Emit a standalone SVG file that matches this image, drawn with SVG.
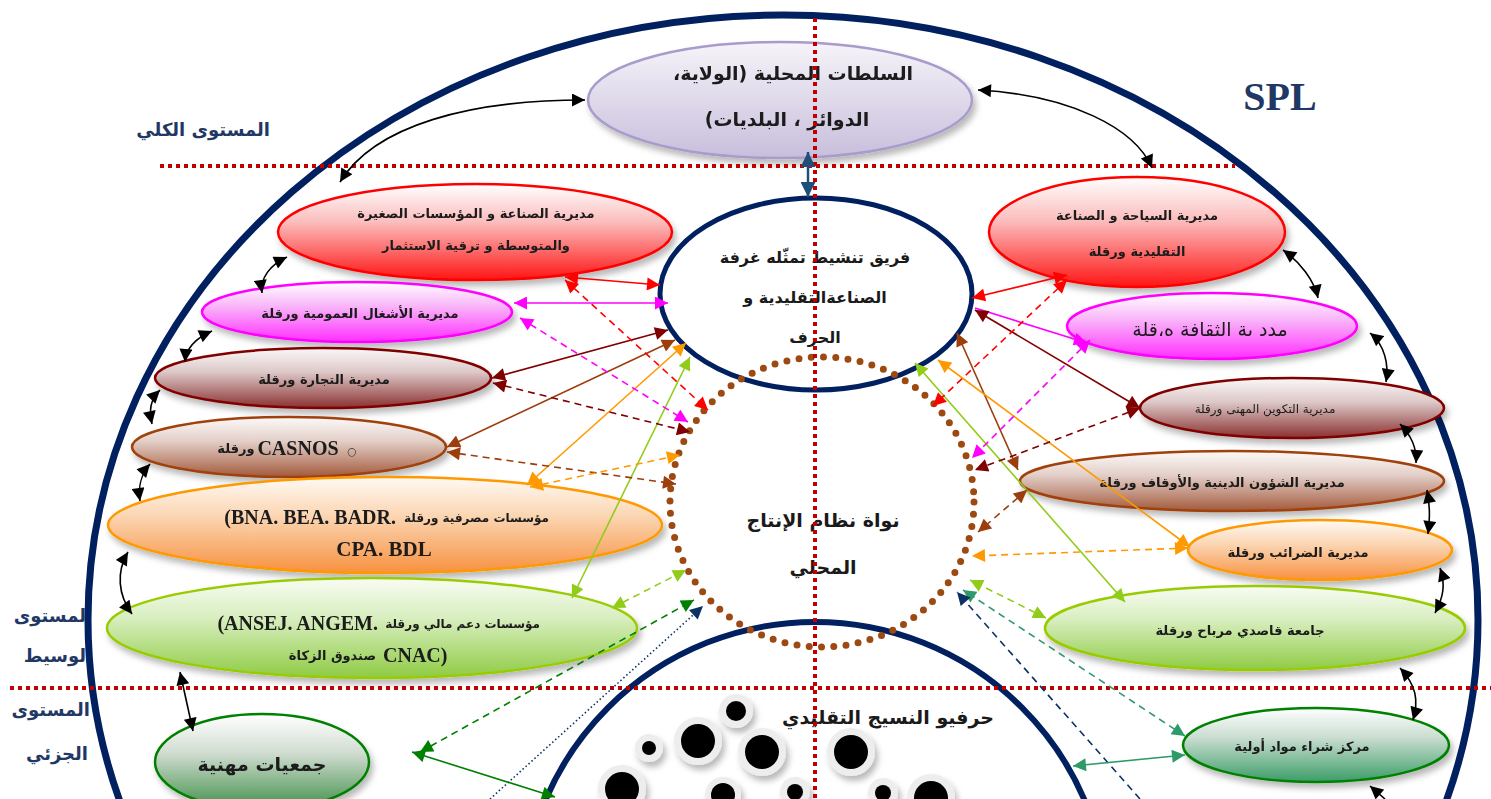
<svg xmlns="http://www.w3.org/2000/svg" width="1491" height="799" viewBox="0 0 1491 799">
<style>
.ar{font-family:"DejaVu Sans","Noto Sans",sans-serif;font-weight:bold;fill:#1a1a1a;text-anchor:middle}
.arr{font-family:"DejaVu Sans","Noto Sans",sans-serif;font-weight:normal;fill:#1a1a1a;text-anchor:middle}
.are{font-family:"DejaVu Sans","Noto Sans",sans-serif;font-weight:bold;fill:#1a1a1a;text-anchor:start}
.lat{font-family:"Liberation Serif","Times New Roman",serif;font-weight:bold;fill:#1a1a1a}
.lvl{font-family:"DejaVu Sans","Noto Sans",sans-serif;font-weight:bold;fill:#1f3864;font-size:18px;text-anchor:end}
.red-dot{fill:none;stroke:#c00000;stroke-width:4;stroke-dasharray:4 4}
.c{fill:none;stroke-width:1.6}
.d{stroke-dasharray:7 5}
.k{stroke:#000}
.r{stroke:#ff0000}
.m{stroke:#ff00ff}
.mr{stroke:#800000}
.b{stroke:#9c3d0c}
.o{stroke:#ff9900}
.y{stroke:#92cc1a}
.g{stroke:#008000}
.t{stroke:#2e9a6a}
.n{stroke:#0a3264}
.node{filter:url(#sh)}
</style>
<defs>
<filter id="sh" x="-10%" y="-15%" width="125%" height="145%"><feDropShadow dx="3" dy="5" stdDeviation="3" flood-color="#000" flood-opacity="0.28"/></filter>
<linearGradient id="gLav" x1="0" y1="0" x2="0" y2="1"><stop offset="0" stop-color="#f6f4f9"/><stop offset="1" stop-color="#c8bedc"/></linearGradient>
<linearGradient id="gRed" x1="0" y1="0" x2="0" y2="1"><stop offset="0" stop-color="#ffffff"/><stop offset="0.4" stop-color="#fbbcbc"/><stop offset="1" stop-color="#ff1414"/></linearGradient>
<linearGradient id="gMag" x1="0" y1="0" x2="0" y2="1"><stop offset="0" stop-color="#ffffff"/><stop offset="0.4" stop-color="#f9b6f9"/><stop offset="1" stop-color="#ff2eff"/></linearGradient>
<linearGradient id="gMar" x1="0" y1="0" x2="0" y2="1"><stop offset="0" stop-color="#fbf8f8"/><stop offset="0.4" stop-color="#ddc8c8"/><stop offset="1" stop-color="#8a3030"/></linearGradient>
<linearGradient id="gBrn" x1="0" y1="0" x2="0" y2="1"><stop offset="0" stop-color="#fcfaf9"/><stop offset="0.4" stop-color="#e3cfc8"/><stop offset="1" stop-color="#a35a3c"/></linearGradient>
<linearGradient id="gOra" x1="0" y1="0" x2="0" y2="1"><stop offset="0" stop-color="#fffaf4"/><stop offset="0.4" stop-color="#fbd6b3"/><stop offset="1" stop-color="#f79140"/></linearGradient>
<linearGradient id="gYg" x1="0" y1="0" x2="0" y2="1"><stop offset="0" stop-color="#f8fcf3"/><stop offset="0.4" stop-color="#d8eebf"/><stop offset="1" stop-color="#8fcb44"/></linearGradient>
<linearGradient id="gGrn" x1="0" y1="0" x2="0" y2="1"><stop offset="0" stop-color="#ffffff"/><stop offset="0.4" stop-color="#d2ddd2"/><stop offset="1" stop-color="#3f8f48"/></linearGradient>
<linearGradient id="gTeal" x1="0" y1="0" x2="0" y2="1"><stop offset="0" stop-color="#ffffff"/><stop offset="0.4" stop-color="#c9ddd0"/><stop offset="1" stop-color="#3c9d68"/></linearGradient>
<marker id="aK" viewBox="0 0 10 10" refX="10" refY="5" markerWidth="14" markerHeight="13" markerUnits="userSpaceOnUse" orient="auto-start-reverse"><path d="M0 0L10 5L0 10z" fill="#000"/></marker>
<marker id="aR" viewBox="0 0 10 10" refX="10" refY="5" markerWidth="14" markerHeight="13" markerUnits="userSpaceOnUse" orient="auto-start-reverse"><path d="M0 0L10 5L0 10z" fill="#ff0000"/></marker>
<marker id="aM" viewBox="0 0 10 10" refX="10" refY="5" markerWidth="14" markerHeight="13" markerUnits="userSpaceOnUse" orient="auto-start-reverse"><path d="M0 0L10 5L0 10z" fill="#ff00ff"/></marker>
<marker id="aMr" viewBox="0 0 10 10" refX="10" refY="5" markerWidth="14" markerHeight="13" markerUnits="userSpaceOnUse" orient="auto-start-reverse"><path d="M0 0L10 5L0 10z" fill="#800000"/></marker>
<marker id="aB" viewBox="0 0 10 10" refX="10" refY="5" markerWidth="14" markerHeight="13" markerUnits="userSpaceOnUse" orient="auto-start-reverse"><path d="M0 0L10 5L0 10z" fill="#9c3d0c"/></marker>
<marker id="aO" viewBox="0 0 10 10" refX="10" refY="5" markerWidth="14" markerHeight="13" markerUnits="userSpaceOnUse" orient="auto-start-reverse"><path d="M0 0L10 5L0 10z" fill="#ff9900"/></marker>
<marker id="aY" viewBox="0 0 10 10" refX="10" refY="5" markerWidth="14" markerHeight="13" markerUnits="userSpaceOnUse" orient="auto-start-reverse"><path d="M0 0L10 5L0 10z" fill="#92cc1a"/></marker>
<marker id="aG" viewBox="0 0 10 10" refX="10" refY="5" markerWidth="14" markerHeight="13" markerUnits="userSpaceOnUse" orient="auto-start-reverse"><path d="M0 0L10 5L0 10z" fill="#008000"/></marker>
<marker id="aT" viewBox="0 0 10 10" refX="10" refY="5" markerWidth="14" markerHeight="13" markerUnits="userSpaceOnUse" orient="auto-start-reverse"><path d="M0 0L10 5L0 10z" fill="#2e9a6a"/></marker>
<marker id="aN" viewBox="0 0 10 10" refX="10" refY="5" markerWidth="14" markerHeight="13" markerUnits="userSpaceOnUse" orient="auto-start-reverse"><path d="M0 0L10 5L0 10z" fill="#0a3264"/></marker>
<marker id="aNB" viewBox="0 0 10 10" refX="10" refY="5" markerWidth="16" markerHeight="15" markerUnits="userSpaceOnUse" orient="auto-start-reverse"><path d="M0 0L10 5L0 10z" fill="#1f4e79"/></marker>
</defs>
<rect width="1491" height="799" fill="#ffffff"/>

<!-- outer SPL boundary -->
<ellipse id="outer" cx="783" cy="620" rx="695" ry="605" fill="none" stroke="#002060" stroke-width="7"/>

<!-- labels -->
<text x="1280" y="110" text-anchor="middle" font-family="Liberation Serif, serif" font-weight="bold" font-size="40" fill="#1f3864">SPL</text>
<text class="lvl" x="270" y="136" font-size="19">المستوى الكلي</text>
<text class="lvl" x="86" y="622">لمستوى</text>
<text class="lvl" x="86" y="662">لوسيط</text>
<text class="lvl" x="90" y="716">المستوى</text>
<text class="lvl" x="88" y="760">الجزئي</text>

<!-- bottom circle: artisans -->
<g id="artisans">
<circle cx="815" cy="915" r="293" fill="none" stroke="#002060" stroke-width="6"/>
<g filter="url(#sh)" fill="#ededed">
<circle cx="736" cy="711" r="17"/><circle cx="698" cy="741" r="24"/><circle cx="649" cy="748" r="14"/>
<circle cx="762" cy="752" r="24"/><circle cx="851" cy="752" r="24"/><circle cx="622" cy="789" r="24"/>
<circle cx="723" cy="795" r="18"/><circle cx="795" cy="792" r="15"/><circle cx="883" cy="793" r="15"/><circle cx="931" cy="798" r="24"/>
</g>
<g fill="#000">
<circle cx="736" cy="711" r="10"/><circle cx="698" cy="741" r="17"/><circle cx="649" cy="748" r="7"/>
<circle cx="762" cy="752" r="17"/><circle cx="851" cy="752" r="17"/><circle cx="622" cy="789" r="17"/>
<circle cx="723" cy="795" r="12"/><circle cx="795" cy="792" r="8"/><circle cx="883" cy="793" r="8"/><circle cx="931" cy="798" r="17"/>
</g>
<text class="ar" x="888" y="724" font-size="19">حرفيو النسيج التقليدي</text>
</g>

<g id="team">
<ellipse cx="816" cy="294" rx="156" ry="96" fill="none" stroke="#002060" stroke-width="5"/>
<text class="ar" x="815" y="263" font-size="16">فريق تنشيط تمثّله غرفة</text>
<text class="ar" x="815" y="303" font-size="16">الصناعةالتقليدية و</text>
<text class="ar" x="815" y="343" font-size="16">الحرف</text>
</g>

<!-- core -->
<g id="core">
<ellipse cx="822" cy="502" rx="152" ry="145" fill="none" stroke="#9c4a12" stroke-width="7" stroke-linecap="round" stroke-dasharray="0 12.3"/>
<text class="ar" x="823" y="527" font-size="19">نواة نظام الإنتاج</text>
<text class="ar" x="823" y="574" font-size="19">المحلي</text>
</g>

<g id="authorities" class="node">
<ellipse cx="780" cy="100" rx="192" ry="58" fill="url(#gLav)" stroke="#a99bcb" stroke-width="2.5"/>
<text class="ar" x="793" y="80" font-size="19" direction="rtl">السلطات المحلية (الولاية،</text>
<text class="ar" x="787" y="126" font-size="19" direction="rtl">الدوائر ، البلديات)</text>
</g>

<!-- left nodes -->
<g id="industry" class="node">
<ellipse cx="475" cy="232" rx="197" ry="48" fill="url(#gRed)" stroke="#ff0000" stroke-width="2.5"/>
<text class="ar" x="476" y="218" font-size="13">مديرية الصناعة و المؤسسات الصغيرة</text>
<text class="ar" x="476" y="250" font-size="13">والمتوسطة و ترقية الاستثمار</text>
</g>
<g id="publicworks" class="node">
<ellipse cx="357" cy="312" rx="155" ry="30" fill="url(#gMag)" stroke="#ff00ff" stroke-width="2.5"/>
<text class="ar" x="360" y="318" font-size="13">مديرية الأشغال العمومية ورقلة</text>
</g>
<g id="commerce" class="node">
<ellipse cx="323" cy="378" rx="168" ry="30" fill="url(#gMar)" stroke="#800000" stroke-width="2.5"/>
<text class="ar" x="324" y="384" font-size="13">مديرية التجارة ورقلة</text>
</g>
<g id="casnos" class="node">
<ellipse cx="289" cy="447" rx="157" ry="30" fill="url(#gBrn)" stroke="#a0400a" stroke-width="2.5"/>
<text class="ar" x="236" y="453" font-size="13">ورقلة</text>
<text class="lat" x="298" y="455" font-size="20" text-anchor="middle">CASNOS</text>
<text x="352" y="455" font-size="11" text-anchor="middle" font-family="DejaVu Sans, sans-serif" fill="#333">○</text>
</g>
<g id="banks" class="node">
<ellipse cx="385" cy="525" rx="277" ry="48" fill="url(#gOra)" stroke="#ff9900" stroke-width="2.5"/>
<text class="are" x="549" y="522" font-size="12" direction="rtl">مؤسسات مصرفية ورقلة</text>
<text class="lat" x="396" y="524" font-size="20" text-anchor="end">(BNA. BEA. BADR.</text>
<text class="lat" x="384" y="556" font-size="21" text-anchor="middle">CPA. BDL</text>
</g>
<g id="finance" class="node">
<ellipse cx="372" cy="628" rx="265" ry="50" fill="url(#gYg)" stroke="#99cc00" stroke-width="2.5"/>
<text class="are" x="540" y="628" font-size="12" direction="rtl">مؤسسات دعم مالي ورقلة</text>
<text class="lat" x="378" y="630" font-size="20" text-anchor="end">(ANSEJ. ANGEM.</text>
<text class="are" x="376" y="660" font-size="13" direction="rtl">صندوق الزكاة</text>
<text class="lat" x="383" y="662" font-size="20" text-anchor="start">CNAC)</text>
</g>
<g id="associations" class="node">
<ellipse cx="262" cy="762" rx="107" ry="48" fill="url(#gGrn)" stroke="#008000" stroke-width="2.5"/>
<text class="ar" x="262" y="771" font-size="19">جمعيات مهنية</text>
</g>

<!-- right nodes -->
<g id="tourism" class="node">
<ellipse cx="1137" cy="232" rx="148" ry="55" fill="url(#gRed)" stroke="#ff0000" stroke-width="2.5"/>
<text class="ar" x="1137" y="220" font-size="13">مديرية السياحة و الصناعة</text>
<text class="ar" x="1137" y="256" font-size="13">التقليدية ورقلة</text>
</g>
<g id="culture" class="node">
<ellipse cx="1212" cy="326" rx="145" ry="33" fill="url(#gMag)" stroke="#ff00ff" stroke-width="2.5"/>
<text class="arr" x="1210" y="336" font-size="19">مدد ىة الثقافة ه،قلة</text>
</g>
<g id="training" class="node">
<ellipse cx="1292" cy="408" rx="152" ry="30" fill="url(#gMar)" stroke="#800000" stroke-width="2.5"/>
<text class="arr" x="1265" y="413" font-size="12">مديرية التكوين المهنى ورقلة</text>
</g>
<g id="religious" class="node">
<ellipse cx="1232" cy="481" rx="212" ry="30" fill="url(#gBrn)" stroke="#a0400a" stroke-width="2.5"/>
<text class="ar" x="1222" y="487" font-size="13">مديرية الشؤون الدينية والأوقاف ورقلة</text>
</g>
<g id="taxes" class="node">
<ellipse cx="1320" cy="550" rx="132" ry="30" fill="url(#gOra)" stroke="#ff9900" stroke-width="2.5"/>
<text class="ar" x="1298" y="557" font-size="13">مديرية الضرائب ورقلة</text>
</g>
<g id="university" class="node">
<ellipse cx="1255" cy="628" rx="210" ry="42" fill="url(#gYg)" stroke="#99cc00" stroke-width="2.5"/>
<text class="ar" x="1240" y="635" font-size="13">جامعة قاصدي مرباح ورقلة</text>
</g>
<g id="purchase" class="node">
<ellipse cx="1316" cy="745" rx="133" ry="37" fill="url(#gTeal)" stroke="#008000" stroke-width="2.5"/>
<text class="ar" x="1302" y="751" font-size="13">مركز شراء مواد أولية</text>
</g>

<!-- dotted reference lines -->
<g id="gridlines">
<line class="red-dot" x1="160" y1="166" x2="1235" y2="166"/>
<line class="red-dot" x1="10" y1="688" x2="1491" y2="688"/>
<line class="red-dot" x1="815" y1="18" x2="815" y2="799"/>
</g>

<!-- connectors -->
<g id="connectors">
<g class="c k" marker-start="url(#aK)" marker-end="url(#aK)">
<path d="M585 100 C470 100 375 125 340 182"/>
<path d="M978 90 C1070 95 1135 128 1152 168"/>
<path d="M287 257 C270 265 260 278 262 293"/>
<path d="M212 331 C196 338 186 348 185 362"/>
<path d="M160 390 C150 400 149 410 152 424"/>
<path d="M150 464 C141 474 138 488 140 501"/>
<path d="M128 552 C116 572 118 595 132 614"/>
<path d="M180 672 L193 731"/>
<path d="M1283 250 C1300 262 1314 280 1318 298"/>
<path d="M1370 333 C1385 345 1389 365 1386 382"/>
<path d="M1400 424 C1410 434 1417 448 1416 463"/>
<path d="M1427 490 C1430 505 1430 520 1428 534"/>
<path d="M1440 568 C1446 585 1443 598 1435 613"/>
<path d="M1400 668 C1416 685 1419 700 1413 720"/>
</g>
<path class="c k" d="M1385 799 L1370 786" marker-end="url(#aK)"/>
<path d="M808 152 L808 197" fill="none" stroke="#1f4e79" stroke-width="2.5" marker-start="url(#aNB)" marker-end="url(#aNB)"/>

<path class="c r" d="M565 277 L660 285" marker-start="url(#aR)" marker-end="url(#aR)"/>
<path class="c m" d="M514 303 L668 303" marker-start="url(#aM)" marker-end="url(#aM)"/>
<path class="c mr" d="M492 378 L668 330" marker-start="url(#aMr)" marker-end="url(#aMr)"/>
<path class="c b" d="M447 447 L675 340" marker-start="url(#aB)" marker-end="url(#aB)"/>
<path class="c o" d="M527 485 L686 343" marker-start="url(#aO)" marker-end="url(#aO)"/>
<path class="c y" d="M572 598 L690 357" marker-start="url(#aY)" marker-end="url(#aY)"/>
<path class="c d r" d="M565 280 L708 410" marker-start="url(#aR)" marker-end="url(#aR)"/>
<path class="c d m" d="M520 318 L688 422" marker-start="url(#aM)" marker-end="url(#aM)"/>
<path class="c d mr" d="M493 383 L690 432" marker-start="url(#aMr)" marker-end="url(#aMr)"/>
<path class="c d b" d="M447 452 L676 484" marker-start="url(#aB)" marker-end="url(#aB)"/>
<path class="c d o" d="M530 487 L680 455" marker-start="url(#aO)" marker-end="url(#aO)"/>
<path class="c d y" d="M612 608 L686 570" marker-start="url(#aY)" marker-end="url(#aY)"/>
<path class="c d g" d="M420 752 L694 600" marker-start="url(#aG)" marker-end="url(#aG)"/>
<path class="c n" d="M490 799 L703 606" stroke-dasharray="1.5 2.5" stroke-width="1.3" marker-end="url(#aN)"/>
<path class="c g" d="M412 752 L555 797" marker-start="url(#aG)" marker-end="url(#aG)"/>

<path class="c r" d="M1067 275 L972 298" marker-start="url(#aR)" marker-end="url(#aR)"/>
<path class="c m" d="M975 308 L1087 343" marker-end="url(#aM)"/>
<path class="c mr" d="M975 310 L1140 408" marker-start="url(#aMr)" marker-end="url(#aMr)"/>
<path class="c b" d="M957 333 L1018 470" marker-start="url(#aB)" marker-end="url(#aB)"/>
<path class="c o" d="M938 360 L1190 547" marker-start="url(#aO)" marker-end="url(#aO)"/>
<path class="c y" d="M915 363 L1125 602" marker-start="url(#aY)" marker-end="url(#aY)"/>
<path class="c d r" d="M1067 280 L933 406" marker-start="url(#aR)" marker-end="url(#aR)"/>
<path class="c d m" d="M1090 340 L972 458" marker-start="url(#aM)" marker-end="url(#aM)"/>
<path class="c d mr" d="M1140 408 L975 470" marker-start="url(#aMr)" marker-end="url(#aMr)"/>
<path class="c d b" d="M1027 490 L978 532" marker-start="url(#aB)" marker-end="url(#aB)"/>
<path class="c d o" d="M1188 548 L972 556" marker-start="url(#aO)" marker-end="url(#aO)"/>
<path class="c d y" d="M1046 618 L970 580" marker-start="url(#aY)" marker-end="url(#aY)"/>
<path class="c d t" d="M1185 736 L963 590" marker-start="url(#aT)" marker-end="url(#aT)"/>
<path class="c d n" d="M1140 799 L957 592" marker-end="url(#aN)"/>
<path class="c t" d="M1185 755 L1073 766" marker-start="url(#aT)" marker-end="url(#aT)"/>
</g>
</svg>
